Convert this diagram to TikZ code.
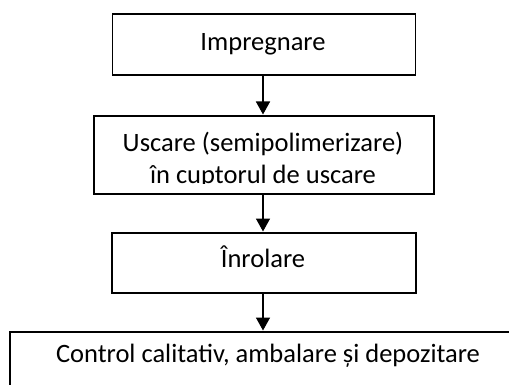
\documentclass[tikz,border=0pt]{standalone}
\usepackage{fontspec}
\setmainfont{Carlito}
\usetikzlibrary{arrows.meta}

\tikzset{
  stepbox/.style={draw=black, line width=1.6pt, fill=white, inner sep=0pt, anchor=north west},
  lbl/.style={anchor=base, inner sep=0pt, text=black, font=\fontsize{26.5}{31}\selectfont},
  arr/.style={line width=1.6pt, -{Triangle[width=14pt,length=13pt]}, shorten >=0.5pt}
}

\begin{document}
\begin{tikzpicture}[x=1pt, y=-1pt]
  % page frame
  \clip (0,0) rectangle (509,385);
  \fill[white] (0,0) rectangle (509,385);

  % process boxes
  \node[stepbox, minimum width=303pt, minimum height=61pt] (b1) at (111.5,13) {};
  \node[stepbox, minimum width=340pt, minimum height=78pt] (b2) at (93,115) {};
  \node[stepbox, minimum width=304pt, minimum height=60pt] (b3) at (111,232) {};
  \node[stepbox, minimum width=518pt, minimum height=80pt] (b4) at (9,331) {};

  % labels
  \node[lbl] (t1) at (263,51) {Impregnare};
  \node[lbl] (t2a) at (263,152) {Uscare (semipolimerizare)};
  \begin{scope}
    \clip (94,116) rectangle (432,183.5);
    \node[lbl] (t2b) at (263,183) {în cuptorul de uscare};
  \end{scope}
  \node[lbl] (t3) at (263,267) {Înrolare};
  \node[lbl] (t4) at (268,362) {Control calitativ, ambalare și depozitare};

  % connectors
  \draw[arr] (b1.south -| t1) -- (b2.north -| t1);
  \draw[arr] (b2.south -| t1) -- (b3.north -| t1);
  \draw[arr] (b3.south -| t1) -- (b4.north -| t1);
\end{tikzpicture}
\end{document}
